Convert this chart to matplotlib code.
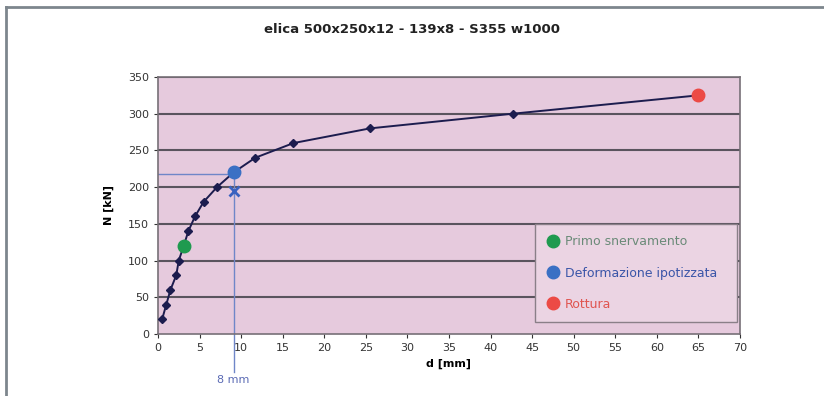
import matplotlib
matplotlib.use("Agg")
import matplotlib.pyplot as plt
from matplotlib.lines import Line2D

# curve points
d_mm = [0.5, 1.0, 1.5, 2.2, 2.5, 3.1, 3.65, 4.45, 5.5, 7.1, 9.1, 11.7, 16.3, 25.5, 42.7, 65.0]
n_kn = [20, 40, 60, 80, 100, 120, 140, 160, 180, 200, 220, 240, 260, 280, 300, 325]

yield_pt = (3.1, 120)      # Primo snervamento
design_pt = (9.1, 220)     # Deformazione ipotizzata
rupture_pt = (65.0, 325)   # Rottura
cross_pt = (9.1, 195)

x_ticks = list(range(0, 75, 5))
y_ticks = list(range(0, 400, 50))

bg = "#e6cadd"
navy = "#1c1c4e"

fig = plt.figure(figsize=(8.24, 3.96), dpi=100)
ax = fig.add_axes([0.1917, 0.1566, 0.7063, 0.649])
ax.set_facecolor(bg)

for y in y_ticks[1:]:
    ax.axhline(y, color="#5a545e", lw=1.5, zorder=1)

# guide lines for the design point
ax.plot([0, design_pt[0]], [design_pt[1] - 2, design_pt[1] - 2], color="#6f86c8", lw=1, zorder=2)
ax.plot([design_pt[0], design_pt[0]], [design_pt[1], -52], color="#6f86c8", lw=1,
        zorder=2, clip_on=False)

ax.plot(d_mm, n_kn, color=navy, lw=1.4, marker="D", ms=4.5, mfc=navy, mec=navy, zorder=3)
ax.plot(*cross_pt, marker="x", color="#3a62c0", ms=7, mew=2, zorder=4)
ax.plot(*yield_pt, "o", color="#1f9a4f", ms=9, zorder=5)
ax.plot(*design_pt, "o", color="#3a70c4", ms=9, zorder=5)
ax.plot(*rupture_pt, "o", color="#ec4a45", ms=9, zorder=5)

ax.set_xlim(0, 70)
ax.set_ylim(0, 350)
ax.set_xticks(x_ticks)
ax.set_yticks(y_ticks)
ax.tick_params(labelsize=8, colors="#333333", length=3)
for s in ax.spines.values():
    s.set_color("#777077")
    s.set_linewidth(1.2)

ax.set_xlabel("d [mm]", fontsize=8, fontweight="bold", labelpad=4)
ax.set_ylabel("N [kN]", fontsize=8, fontweight="bold", labelpad=10)
ax.text(design_pt[0], -62, "8 mm", color="#5a6ab4", fontsize=8, ha="center", va="center",
        clip_on=False)

fig.text(0.5, 0.925, "elica 500x250x12 - 139x8 - S355 w1000", ha="center", va="center",
         fontsize=9.5, fontweight="bold", color="#222222")

handles = [
    Line2D([], [], ls="", marker="o", color="#1f9a4f", ms=9),
    Line2D([], [], ls="", marker="o", color="#3a70c4", ms=9),
    Line2D([], [], ls="", marker="o", color="#ec4a45", ms=9),
]
labels = ["Primo snervamento", "Deformazione ipotizzata", "Rottura"]
leg = ax.legend(handles, labels, loc="lower left", bbox_to_anchor=(0.648, 0.047, 0.347, 0.365),
                mode="expand", borderaxespad=0, fontsize=9, frameon=True, fancybox=False,
                handletextpad=0.5, borderpad=0.9, labelspacing=1.45, handlelength=1.0)
leg.get_frame().set_facecolor("#ebd4e3")
leg.get_frame().set_edgecolor("#8a7f88")
leg.get_frame().set_alpha(1)
for t, c in zip(leg.get_texts(), ["#6a8a78", "#3a55a8", "#e05550"]):
    t.set_color(c)

# outer frame
fig.add_artist(Line2D([0.007, 0.007], [0, 0.982], color="#7d868d", lw=2, transform=fig.transFigure))
fig.add_artist(Line2D([0.007, 1.0], [0.982, 0.982], color="#7d868d", lw=2, transform=fig.transFigure))

fig.savefig("out.png", dpi=100)
